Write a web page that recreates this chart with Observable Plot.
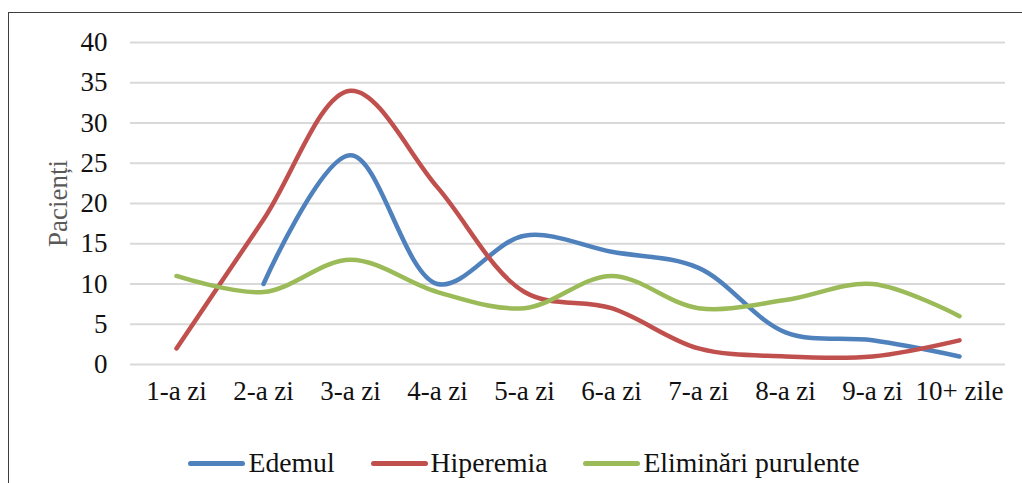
<!DOCTYPE html>
<html>
<head>
<meta charset="utf-8">
<script src="https://cdn.jsdelivr.net/npm/d3@7"></script>
<script src="https://cdn.jsdelivr.net/npm/@observablehq/plot@0.6"></script>
<style>
  html, body { margin: 0; padding: 0; background: #fff; overflow: hidden; width: 1022px; height: 483px; }
  #frame { position: absolute; left: 8px; top: 12px; width: 1100px; height: 600px;
           border-left: 1.5px solid #3f3f3f; border-top: 1.5px solid #3f3f3f; }
  #chart { position: absolute; left: 0; top: 0; }
  #chart text { font-family: 'Liberation Serif', 'Tinos', 'DejaVu Serif', serif; }
  #legend { position: absolute; left: 13px; top: 447px; width: 1022px; display: flex; justify-content: center;
            font-family: 'Liberation Serif', 'Tinos', 'DejaVu Serif', serif; font-size: 27.7px; color: #111; }
  .item { display: flex; align-items: center; margin: 0 18px; }
  .sw { width: 57px; height: 5px; border-radius: 3px; margin-right: 3px; }
</style>
</head>
<body>
<div id="frame"></div>
<div id="chart"></div>
<div id="legend"></div>
<script>
const categories = ["1-a zi", "2-a zi", "3-a zi", "4-a zi", "5-a zi", "6-a zi", "7-a zi", "8-a zi", "9-a zi", "10+ zile"];
const seriesNames = ["Edemul", "Hiperemia", "Eliminări purulente"];
const colors = ["#4F81BD", "#C0504D", "#9BBB59"];
const edemul = [null, 10, 26, 10, 16, 14, 12, 4, 3, 1];
const hiperemia = [2, 18, 34, 22, 9, 7, 2, 1, 1, 3];
const eliminari = [11, 9, 13, 9, 7, 11, 7, 8, 10, 6];
const yTicks = [0, 5, 10, 15, 20, 25, 30, 35, 40];
const yLabel = "Pacienți";

const seriesValues = [edemul, hiperemia, eliminari];
const data = [];
seriesValues.forEach((vals, s) => vals.forEach((v, i) => {
  if (v !== null) data.push({series: seriesNames[s], cat: categories[i], value: v});
}));

const font = "'Liberation Serif', 'Tinos', 'DejaVu Serif', serif";
const chart = Plot.plot({
  width: 1022,
  height: 483,
  marginLeft: 130,
  marginRight: 17,
  marginTop: 42,
  marginBottom: 119,
  style: {fontFamily: font, fontSize: "27px", background: "transparent", color: "#111"},
  x: {type: "point", domain: categories, padding: 0.5},
  y: {domain: [0, 40]},
  color: {domain: seriesNames, range: colors},
  marks: [
    Plot.ruleY(yTicks, {stroke: "#d9d9d9", strokeWidth: 2}),
    Plot.axisY({ticks: yTicks, tickSize: 0, tickPadding: 23, label: null, fontSize: 27}),
    Plot.axisX({tickSize: 0, tickPadding: 16, label: null, fontSize: 27}),
    Plot.text([yLabel], {frameAnchor: "left", textAnchor: "middle", dx: -72, rotate: -90, fill: "#595959", fontSize: 27}),
    Plot.line(data, {x: "cat", y: "value", z: "series", stroke: "series", strokeWidth: 4.5,
      curve: "catmull-rom", strokeLinecap: "round", strokeLinejoin: "round"})
  ]
});
document.getElementById("chart").appendChild(chart);

const legend = document.getElementById("legend");
seriesNames.forEach((name, i) => {
  const item = document.createElement("div");
  item.className = "item";
  const sw = document.createElement("div");
  sw.className = "sw";
  sw.style.background = colors[i];
  const t = document.createElement("span");
  t.textContent = name;
  item.appendChild(sw);
  item.appendChild(t);
  legend.appendChild(item);
});
</script>
</body>
</html>
